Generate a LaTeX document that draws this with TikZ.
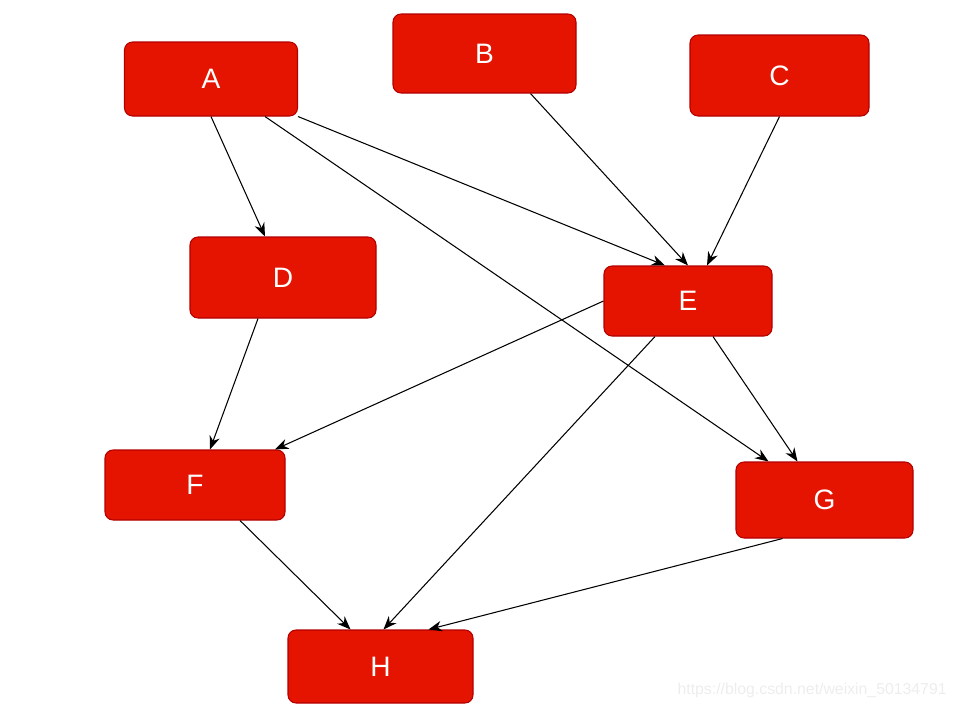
\documentclass[tikz,border=0pt]{standalone}
\usepackage{fontspec}
\setmainfont{Liberation Sans}
\usepackage{tikz}
\usetikzlibrary{arrows.meta}
\definecolor{BoxRed}{HTML}{E51400}
\definecolor{BoxEdge}{HTML}{B20000}
\definecolor{MarkGray}{HTML}{EDEDED}

\begin{document}
\begin{tikzpicture}[box/.style={rounded corners=1.6mm, draw=BoxEdge, line width=0.6pt, fill=BoxRed, text=white, font=\fontsize{16}{18}\selectfont, inner sep=0pt}, arrow/.style={-{Stealth[length=2.7mm, width=2.1mm]}, line width=0.6pt}]
\useasboundingbox (0,0) rectangle (19.08,-14.2);
\node[box, minimum width=3.46cm, minimum height=1.48cm] (A) at (4.22,-1.58) {A};
\node[box, minimum width=3.66cm, minimum height=1.58cm] (B) at (9.69,-1.07) {B};
\node[box, minimum width=3.58cm, minimum height=1.62cm] (C) at (15.59,-1.51) {C};
\node[box, minimum width=3.72cm, minimum height=1.62cm] (D) at (5.66,-5.55) {D};
\node[box, minimum width=3.36cm, minimum height=1.40cm] (E) at (13.76,-6.02) {E};
\node[box, minimum width=3.60cm, minimum height=1.40cm] (F) at (3.90,-9.70) {F};
\node[box, minimum width=3.54cm, minimum height=1.52cm] (G) at (16.49,-10.00) {G};
\node[box, minimum width=3.70cm, minimum height=1.46cm] (H) at (7.61,-13.33) {H};
\draw[arrow] (A.south) -- ([xshift=-0.36cm]D.north);
\draw[arrow] (A.south east) -- ([xshift=-0.46cm]E.north);
\draw[arrow] ([xshift=1.08cm]A.south) -- ([xshift=-1.12cm]G.north);
\draw[arrow] ([xshift=0.92cm]B.south) -- (E.north);
\draw[arrow] (C.south) -- ([xshift=0.38cm]E.north);
\draw[arrow] ([xshift=-0.5cm]D.south) -- ([xshift=0.3cm]F.north);
\draw[arrow] (E.west) -- ([xshift=1.6cm]F.north);
\draw[arrow] ([xshift=-0.66cm]E.south) -- ([xshift=0.06cm]H.north);
\draw[arrow] ([xshift=0.5cm]E.south) -- ([xshift=-0.54cm]G.north);
\draw[arrow] ([xshift=0.9cm]F.south) -- ([xshift=-0.6cm]H.north);
\draw[arrow] ([xshift=-0.84cm]G.south) -- ([xshift=0.96cm]H.north);
\node[anchor=east, text=MarkGray, font=\fontsize{9}{11}\selectfont, inner sep=0pt] (mark) at (18.94,-13.8) {https://blog.csdn.net/weixin\_50134791};
\end{tikzpicture}
\end{document}
